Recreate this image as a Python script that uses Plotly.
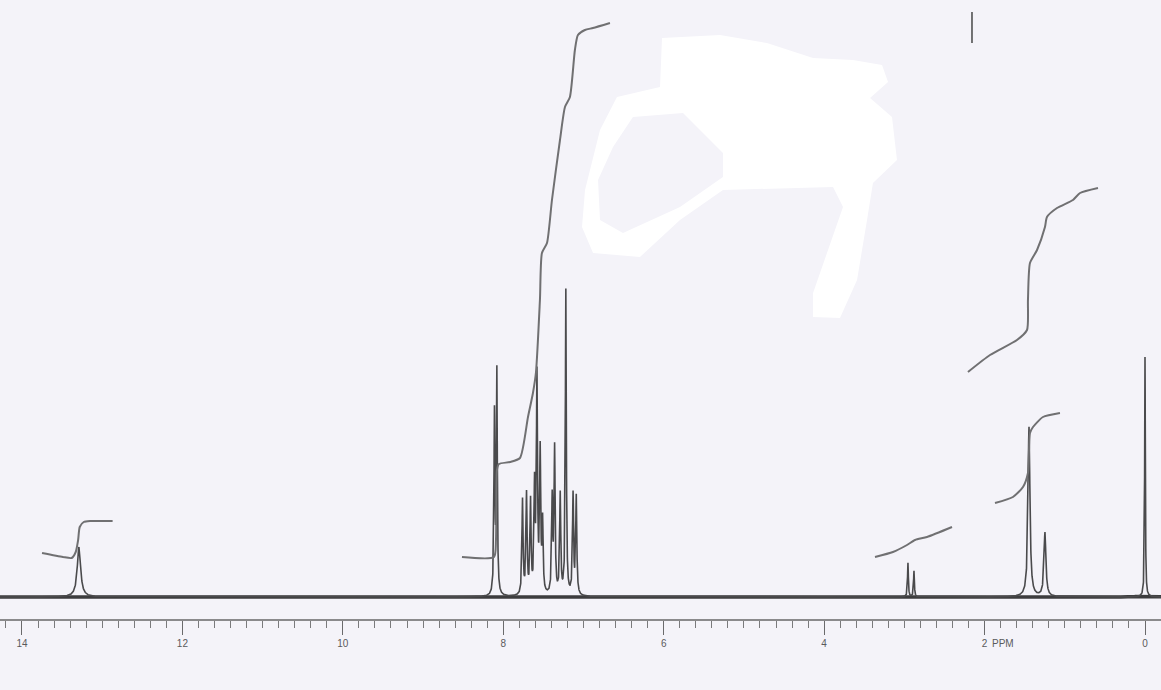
import numpy as np
import plotly.graph_objects as go

# ---------------- data ----------------
# peak list: chemical shift (ppm), height (arbitrary units), half width (ppm)
peak_ppm = [13.29, 8.11, 8.08, 7.76, 7.71, 7.66, 7.61, 7.58, 7.54, 7.51,
            7.39, 7.36, 7.29, 7.22, 7.13, 7.09, 2.955, 2.88, 1.446, 1.247, 0.0]
peak_height = [50, 180, 222, 95, 100, 92, 105, 215, 140, 70,
               95, 145, 100, 305, 100, 98, 34, 26, 170, 64, 240]
peak_hwhm = [0.025, 0.007, 0.007, 0.008, 0.008, 0.008, 0.008, 0.008, 0.008, 0.008,
             0.008, 0.008, 0.008, 0.007, 0.008, 0.008, 0.006, 0.006, 0.014, 0.014, 0.005]

# integral traces (ppm, trace height)
int1_ppm = [13.75, 13.49, 13.38, 13.33, 13.30, 13.28, 13.23, 13.15, 12.87]
int1_val = [44, 40, 39, 45, 57, 70, 75, 76, 76]

int2_ppm = [8.515, 8.116, 8.091, 8.079, 8.054, 7.917, 7.792, 7.692, 7.630, 7.592, 7.543,
            7.518, 7.455, 7.393, 7.293, 7.231, 7.169, 7.107, 7.069, 6.982, 6.882, 6.670]
int2_val = [40, 40, 57, 127, 133, 135, 139, 180, 204, 225, 297,
            344, 354, 397, 457, 490, 500, 547, 562, 567, 569, 574]

int3_ppm = [3.366, 3.142, 2.967, 2.867, 2.718, 2.406]
int3_val = [40, 45, 52, 57, 60, 70]

int4_ppm = [2.207, 1.932, 1.596, 1.471, 1.459, 1.434, 1.346, 1.247, 1.222, 1.097, 0.898, 0.810, 0.586]
int4_val = [225, 242, 257, 267, 297, 334, 347, 370, 380, 389, 397, 404, 409]

int5_ppm = [1.870, 1.646, 1.521, 1.459, 1.434, 1.396, 1.272, 1.060]
int5_val = [94, 100, 110, 124, 164, 170, 180, 184]

# pen mark at the top of the chart
pen_ppm = [2.157, 2.157]
pen_val = [585, 554]

# axis ticks
major_ticks = list(range(0, 15))
tick_labels = ["0", "", "2", "", "4", "", "6", "", "8", "", "10", "", "12", "", "14"]
minor_ticks = [round(v, 1) for v in np.arange(-0.2, 14.3, 0.2)]

# ---------------- build spectrum ----------------
x = np.arange(-0.2, 14.3, 0.001)
y = np.zeros_like(x)
for p, h, w in zip(peak_ppm, peak_height, peak_hwhm):
    y += h * w**2 / ((x - p) ** 2 + w**2)

line_col = "#4a4a4c"
int_col = "#707072"

fig = go.Figure()
# thick baseline band (noise level of the scan)
fig.add_trace(go.Scatter(x=x, y=np.minimum(y, 0.5), mode="lines",
                         line=dict(color="#3c3c3e", width=3.5),
                         hoverinfo="skip", showlegend=False))
fig.add_trace(go.Scatter(x=x, y=y, mode="lines", line=dict(color=line_col, width=1.6),
                         hoverinfo="skip", showlegend=False))
for xs, ys in [(int1_ppm, int1_val), (int2_ppm, int2_val), (int3_ppm, int3_val),
               (int4_ppm, int4_val), (int5_ppm, int5_val), (pen_ppm, pen_val)]:
    fig.add_trace(go.Scatter(x=xs, y=ys, mode="lines",
                             line=dict(color=int_col, width=2, shape="spline", smoothing=0.6),
                             hoverinfo="skip", showlegend=False))

# ---------------- decoration: white-out blob of the scan ----------------
W, PH = 1161, 619
def P(px, py):
    return f"{px / W:.4f},{(PH - py) / PH:.4f}"

outer = [(662, 38), (720, 35), (767, 43), (813, 58), (853, 60), (882, 65), (888, 82), (870, 98),
         (892, 117), (897, 160), (873, 183), (867, 220), (857, 280), (840, 318), (813, 317),
         (813, 293), (843, 207), (833, 187), (723, 190), (680, 220), (640, 257), (593, 253),
         (582, 227), (585, 190), (600, 130), (617, 97), (660, 87)]
hole = [(633, 117), (683, 113), (723, 153), (723, 177), (680, 207), (623, 233), (600, 220),
        (598, 180), (613, 147)]
path = "M" + " L".join(P(*p) for p in outer) + " Z M" + " L".join(P(*p) for p in hole) + " Z"

fig.add_shape(type="path", path=path, xref="paper", yref="paper", fillcolor="white",
              line=dict(width=0), layer="below", fillrule="evenodd")

fig.add_annotation(text="PPM", x=0.853, y=-0.039, xref="paper", yref="paper",
                   xanchor="left", yanchor="middle", showarrow=False,
                   font=dict(family="Liberation Sans", size=10, color="#5a5a5c"))

bg = "#f4f3f9"
fig.update_layout(
    width=1161, height=690,
    margin=dict(l=0, r=0, t=0, b=71),
    paper_bgcolor=bg, plot_bgcolor=bg,
    xaxis=dict(range=[14.274, -0.1995], tickmode="array", tickvals=major_ticks,
               ticktext=tick_labels, ticks="outside", ticklen=14, tickwidth=1.3,
               tickcolor="#6a6a6c", showline=True, linecolor="#8a8a8c", linewidth=1.5,
               showgrid=False, zeroline=False,
               tickfont=dict(family="Liberation Sans", size=10, color="#5a5a5c"),
               minor=dict(tickmode="array", tickvals=minor_ticks, ticks="outside",
                          ticklen=7, tickwidth=1, tickcolor="#7a7a7c", showgrid=False)),
    yaxis=dict(range=[-22, 597], visible=False, showgrid=False, zeroline=False),
)

fig.write_html("out.html", config={"displayModeBar": False},
               post_script="document.body.style.margin='0px';document.body.style.background='#f4f3f9';")
